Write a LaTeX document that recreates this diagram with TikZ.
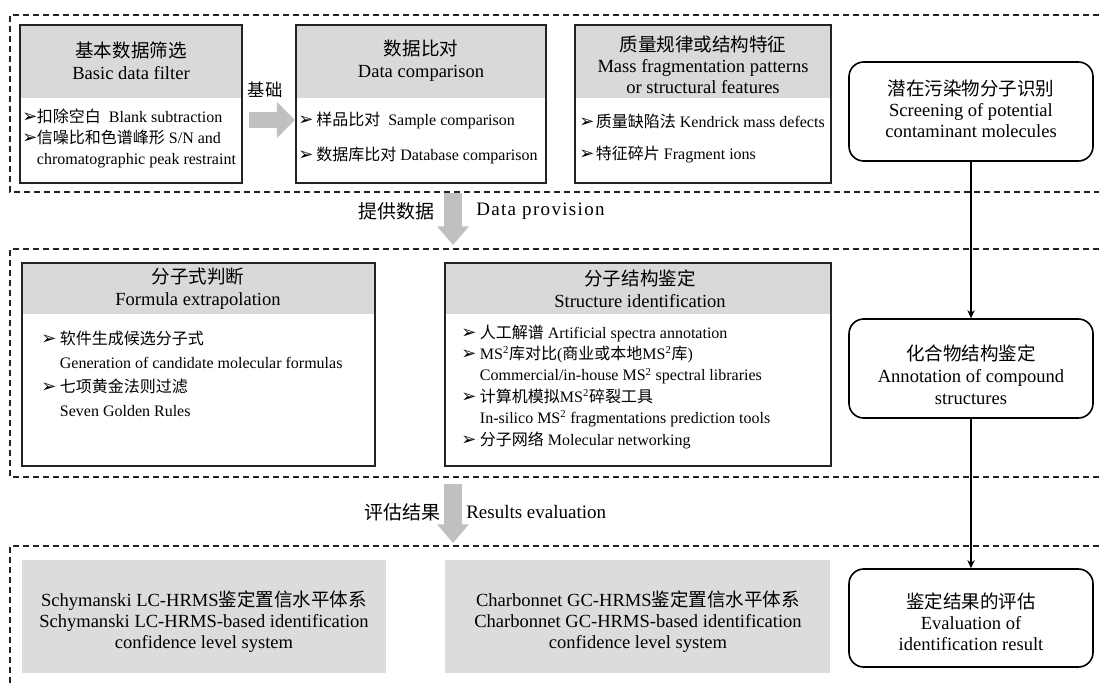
\documentclass[tikz,border=0pt]{standalone}
\usepackage{fontspec}
\setmainfont{Liberation Serif}
\newfontfamily\zhfont{Noto Sans CJK SC}
\newfontfamily\symfont{DejaVu Sans}
\newfontfamily\widefont[LetterSpace=7]{Liberation Serif}
\newcommand\zh[1]{{\zhfont #1}}
\newcommand\bul{{\symfont\fontsize{13.5}{14}\selectfont\char"27A2}}
\newcommand\bb[1]{\makebox[#1][l]{\bul}}
\usetikzlibrary{fit,arrows.meta}
\definecolor{hgray}{RGB}{217,217,217}
\definecolor{ggray}{RGB}{220,220,220}
\definecolor{agray}{RGB}{192,192,192}
\definecolor{framec}{RGB}{35,35,35}
\tikzset{
 boxframe/.style={draw=framec, line width=1.6pt, inner sep=0pt},
 headfill/.style={fill=hgray, draw=none, inner sep=0pt},
 rbox/.style={draw=black, line width=1.2pt, rounded corners=11pt, inner sep=0pt},
 graybox/.style={fill=ggray, draw=none, inner sep=0pt},
 dashframe/.style={draw=framec, line width=0.9pt, dash pattern=on 4.5pt off 3pt},
 ttl/.style={align=center, inner sep=0pt, font=\fontsize{13.9}{16.5}\selectfont},
 ttlb/.style={align=center, inner sep=0pt, font=\fontsize{13.9}{15.75}\selectfont},
 itm/.style={align=left, anchor=west, inner sep=0pt, font=\fontsize{12}{15.75}\selectfont},
 lbl/.style={inner sep=0pt, font=\fontsize{14.25}{17}\selectfont},
 conn/.style={draw=black, line width=1pt, -{Stealth[length=6pt,width=5.5pt]}},
 blockarr/.style={draw=agray, line width=13.5pt, -{Triangle[length=14pt,width=23pt]}},
 blockarrh/.style={draw=agray, line width=12pt, -{Triangle[length=13.5pt,width=26pt]}},
}
\begin{document}
\begin{tikzpicture}[x=0.75pt,y=-0.75pt]
\useasboundingbox (0,0) rectangle (1099,686);
% dashed frames
\draw[dashframe] (1099,15) -| (10,192) -- (1099,192);
\draw[dashframe] (1099,249) -| (10,477) -- (1099,477);
\draw[dashframe] (1099,546) -| (10,686);
% header fills
\node[headfill, fit={(20,25) (242,98)}] (b1h) {};
\node[headfill, fit={(296,25) (546,98)}] (b2h) {};
\node[headfill, fit={(575,25) (831,98)}] (b3h) {};
\node[headfill, fit={(22,263) (375,314)}] (b4h) {};
\node[headfill, fit={(445,263) (831,314)}] (b5h) {};
% frames
\node[boxframe, fit={(20,25) (242,183)}] (b1) {};
\node[boxframe, fit={(296,25) (546,183)}] (b2) {};
\node[boxframe, fit={(575,25) (831,183)}] (b3) {};
\node[boxframe, fit={(22,263) (375,466)}] (b4) {};
\node[boxframe, fit={(445,263) (831,466)}] (b5) {};
\node[graybox, fit={(22,560) (386,673)}] (g6) {};
\node[graybox, fit={(445,560) (830,673)}] (g7) {};
\node[rbox, fit={(849,62) (1093,161)}] (r1) {};
\node[rbox, fit={(849,319) (1093,418)}] (r2) {};
\node[rbox, fit={(849,569) (1093,667)}] (r3) {};
% titles
\node[ttl] (b1t) at (131,61) {\zh{基本数据筛选}\\Basic data filter};
\node[ttl] (b2t) at (421,61) {\zh{数据比对}\\Data comparison};
\node[ttlb] (b3t) at (703,65) {\zh{质量规律或结构特征}\\Mass fragmentation patterns\\or structural features};
\node[ttlb] (r1t) at (971,109) {\zh{潜在污染物分子识别}\\Screening of potential\\contaminant molecules};
\node[ttl] (b4t) at (198,289) {\zh{分子式判断}\\Formula extrapolation};
\node[ttl] (b5t) at (640,289) {\zh{分子结构鉴定}\\Structure identification};
\node[ttl] (r2t) at (971,375) {\zh{化合物结构鉴定}\\Annotation of compound\\structures};
\node[ttlb] (g6t) at (204,622) {Schymanski LC-HRMS\zh{鉴定置信水平体系}\\Schymanski LC-HRMS-based identification\\confidence level system};
\node[ttlb] (g7t) at (638,622) {Charbonnet GC-HRMS\zh{鉴定置信水平体系}\\Charbonnet GC-HRMS-based identification\\confidence level system};
\node[ttlb] (r3t) at (971,622) {\zh{鉴定结果的评估}\\Evaluation of\\identification result};
% items
\node[itm] (b1i) at (22,138) {\bb{11pt}\zh{扣除空白}\ \ Blank subtraction\\
 \bb{11pt}\zh{信噪比和色谱峰形} S/N and\\
 \hspace*{11pt}chromatographic peak restraint};
\node[itm, font=\fontsize{12}{26.25}\selectfont] (b2i) at (298,137.5) {\bb{13.5pt}\zh{样品比对}\ \ Sample comparison\\
 \bb{13.5pt}\zh{数据库比对} Database comparison};
\node[itm, font=\fontsize{12}{24}\selectfont] (b3i) at (579,138) {\bb{12.5pt}\zh{质量缺陷法} Kendrick mass defects\\
 \bb{12.5pt}\zh{特征碎片} Fragment ions};
\node[itm, font=\fontsize{12}{18}\selectfont] (b4i) at (41,374) {\bb{14pt}\zh{软件生成候选分子式}\\
 \hspace*{14pt}Generation of candidate molecular formulas\\
 \bb{14pt}\zh{七项黄金法则过滤}\\
 \hspace*{14pt}Seven Golden Rules};
\node[itm, font=\fontsize{12}{16.05}\selectfont] (b5i) at (461,386.5) {\bb{14pt}\zh{人工解谱} Artificial spectra annotation\\
 \bb{14pt}MS\textsuperscript{2}\zh{库对比}(\zh{商业或本地}MS\textsuperscript{2}\zh{库})\\
 \hspace*{14pt}Commercial/in-house MS\textsuperscript{2} spectral libraries\\
 \bb{14pt}\zh{计算机模拟}MS\textsuperscript{2}\zh{碎裂工具}\\
 \hspace*{14pt}In-silico MS\textsuperscript{2} fragmentations prediction tools\\
 \bb{14pt}\zh{分子网络} Molecular networking};
% block arrows and labels
\coordinate (a1s) at (249,120);
\draw[blockarrh] (a1s) -- (a1s -| b2.west);
\node[lbl, font=\fontsize{13}{15}\selectfont] (l1) at (265,90) {\zh{基础}};
\coordinate (a2s) at (453,193);
\coordinate (a2e) at (453,245);
\draw[blockarr] (a2s) -- (a2e);
\node[lbl, anchor=east] (l2) at (435,211) {\zh{提供数据}};
\node[lbl, anchor=west] (l3) at (476,211) {\widefont Data provision};
\coordinate (a3s) at (453,484);
\coordinate (a3e) at (453,543);
\draw[blockarr] (a3s) -- (a3e);
\node[lbl, anchor=east] (l4) at (441,512) {\zh{评估结果}};
\node[lbl, anchor=west] (l5) at (466,512) {Results evaluation};
% connectors
\draw[conn] (r1) -- (r2);
\draw[conn] (r2) -- (r3);
\end{tikzpicture}
\end{document}
